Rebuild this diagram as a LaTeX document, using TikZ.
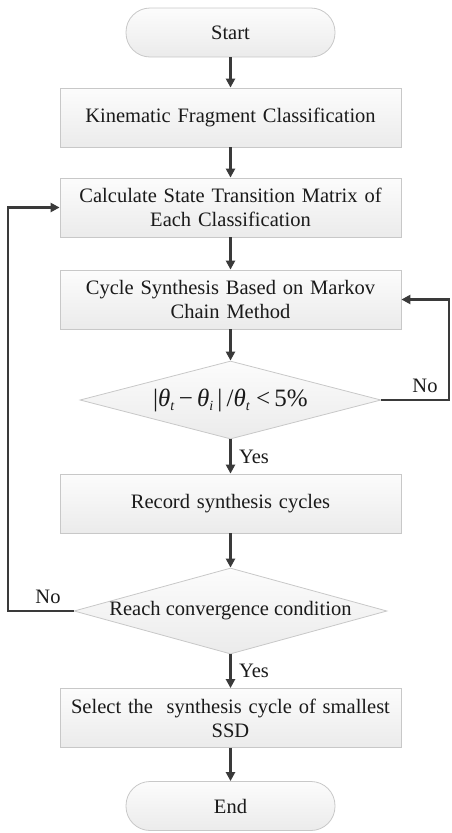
\documentclass[tikz,border=0pt]{standalone}
\usepackage{fontspec}
\setmainfont{Liberation Serif}
\usepackage{xcolor}
\usetikzlibrary{shapes.geometric, arrows.meta, positioning, calc}
\definecolor{LineDark}{HTML}{3A3A3A}
\definecolor{BoxEdge}{HTML}{C8C8C8}
\definecolor{BoxTop}{HTML}{FCFCFC}
\definecolor{BoxBot}{HTML}{EBEBEB}
\definecolor{TxtPri}{HTML}{1A1A1A}
\newcommand{\thsub}[1]{\textit{θ}\raisebox{-0.35ex}{\fontsize{14}{14}\selectfont\textit{#1}}}

\begin{document}
\begin{tikzpicture}[x=1pt, y=-1pt,
    font=\fontsize{20.5}{24}\selectfont\color{TxtPri},
    flowbox/.style={draw=BoxEdge, line width=0.8pt, top color=BoxTop, bottom color=BoxBot,
                    minimum width=341pt, minimum height=59pt, text width=330pt,
                    align=center, inner sep=2pt},
    termbox/.style={flowbox, rounded corners=24pt, minimum width=209pt,
                    minimum height=49pt, text width=190pt},
    decide/.style={diamond, draw=BoxEdge, line width=0.8pt, top color=BoxTop, bottom color=BoxBot,
                   aspect=3.8, minimum width=301pt, minimum height=78pt, inner sep=0pt,
                   align=center},
    flow/.style={draw=LineDark, line width=2.6pt, -{Triangle[length=9pt, width=9pt]}},
    tag/.style={font=\fontsize{20.5}{22}\selectfont\color{TxtPri}}]
  \useasboundingbox (0,0) rectangle (451,833);

  % main column
  \node[termbox] (start) at (230.5,32.5) {Start};
  \node[flowbox] (kin)   at (230.5,117.5) {Kinematic Fragment Classification};
  \node[flowbox] (stm)   at (230.5,207.5) {Calculate State Transition Matrix of\\ Each Classification};
  \node[flowbox] (syn)   at (230.5,299.5) {Cycle Synthesis Based on Markov\\ Chain Method};
  \node[decide]  (err)   at (230.5,400)
    {\fontsize{25}{26}\selectfont |\thsub{t}\,−\,\thsub{i}\,|\,/\thsub{t}\ <\,5\%};
  \node[flowbox] (rec)   at (230.5,503.5) {Record synthesis cycles};
  \node[decide, minimum height=86pt] (conv) at (230.5,611) {Reach convergence condition};
  \node[flowbox] (sel)   at (230.5,718) {Select the\ \ synthesis cycle of smallest\\ SSD};
  \node[termbox] (stop)  at (230.5,806) {End};

  \draw[flow] (start) -- (kin);
  \draw[flow] (kin) -- (stm);
  \draw[flow] (stm) -- (syn);
  \draw[flow] (syn) -- (err);
  \draw[flow] (err) -- node[tag, right=4pt] {Yes} (rec);
  \draw[flow] (rec) -- (conv);
  \draw[flow] (conv) -- node[tag, right=4pt] {Yes} (sel);
  \draw[flow] (sel) -- (stop);

  % feedback loops
  \coordinate (rloop) at (449,400);
  \coordinate (lloop) at (8,611);
  \draw[flow] (err.east) -- (rloop) |- (syn.east);
  \draw[flow] (conv.west) -- (lloop) |- (stm.west);
  \node[tag] (no1) at (425,386) {No};
  \node[tag] (no2) at (48,597) {No};
\end{tikzpicture}
\end{document}
